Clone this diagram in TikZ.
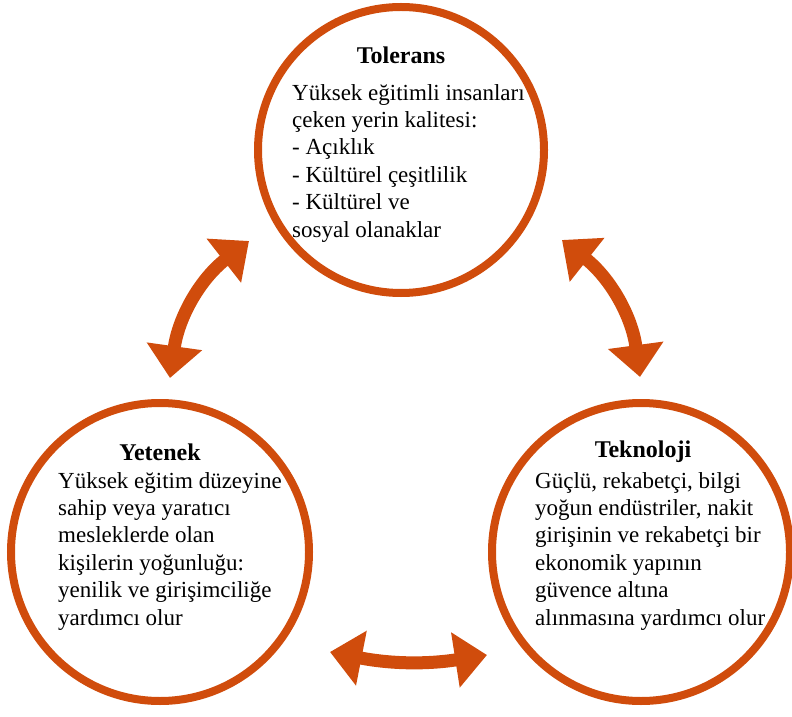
\documentclass[tikz,border=0pt]{standalone}
\usepackage{fontspec}
\setmainfont{Liberation Serif}
\usetikzlibrary{arrows.meta}

\definecolor{rust}{RGB}{208,76,12}

\begin{document}
\begin{tikzpicture}[x=1pt,y=1pt,
    ring/.style={circle, draw=rust, line width=8pt, minimum size=#1},
    title/.style={font=\fontsize{24}{28}\selectfont\bfseries, inner sep=0pt},
    body/.style={font=\fontsize{23}{27.4}\selectfont, align=left, inner sep=0pt, anchor=north west},
    twoway/.style={draw=rust, line width=13pt,
        {Triangle[width=54pt,length=32pt]}-{Triangle[width=54pt,length=32pt]}}]
    \useasboundingbox (0,0) rectangle (792,716);

    % First, the three circles
    \node [ring=286pt] (tolerans)  at (401,566) {};
    \node [ring=298pt] (yetenek)   at (160,164) {};
    \node [ring=298pt] (teknoloji) at (641,164) {};

    % Now the texts inside them
    \node [title] (tol title) at (401,661) {Tolerans};
    \node [body] (tol text) at (292,632) {Yüksek eğitimli insanları\\çeken yerin kalitesi:\\- Açıklık\\- Kültürel çeşitlilik\\- Kültürel ve\\sosyal olanaklar};

    \node [title] (yet title) at (160,264) {Yetenek};
    \node [body] (yet text) at (58,244) {Yüksek eğitim düzeyine\\sahip veya yaratıcı\\mesleklerde olan\\kişilerin yoğunluğu:\\yenilik ve girişimciliğe\\yardımcı olur};

    \node [title] (tek title) at (643,264) {Teknoloji};
    \node [body] (tek text) at (535,244) {Güçlü, rekabetçi, bilgi\\yoğun endüstriler, nakit\\girişinin ve rekabetçi bir\\ekonomik yapının\\güvence altına\\alınmasına yardımcı olur};

    % Arrow ends
    \coordinate (left low)  at (170,338);
    \coordinate (left high) at (249,475);
    \coordinate (right high) at (562,476);
    \coordinate (right low)  at (640,339);
    \coordinate (bottom left)  at (330,64);
    \coordinate (bottom right) at (487,61);

    % Now draw the arrows:
    \draw [twoway] (left low) to[bend left=22] (left high);
    \draw [twoway] (right high) to[bend left=22] (right low);
    \draw [twoway] (bottom left) to[bend right=10] (bottom right);
\end{tikzpicture}
\end{document}
